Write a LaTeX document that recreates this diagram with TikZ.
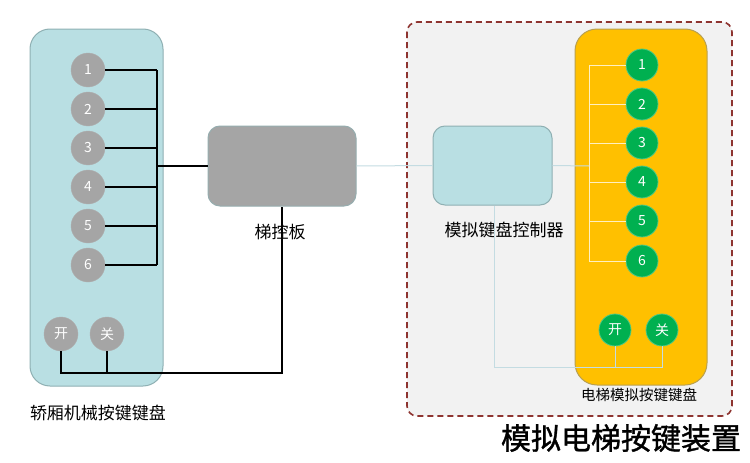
\documentclass[tikz,border=0pt]{standalone}
\usepackage{fontspec}
\setmainfont{Noto Sans CJK SC}
\newfontfamily\titlefont[FakeBold=1.2]{Noto Sans CJK SC}
\usetikzlibrary{calc}
\definecolor{kbblue}{HTML}{B9DFE3}
\definecolor{kbblueedge}{HTML}{8FB0B3}
\definecolor{btngray}{HTML}{A5A5A5}
\definecolor{btngreen}{HTML}{00B050}
\definecolor{kbyellow}{HTML}{FFC000}
\definecolor{yellowedge}{HTML}{B9A050}
\definecolor{regionfill}{HTML}{F2F2F2}
\definecolor{regionedge}{HTML}{8E3430}
\definecolor{paleline}{HTML}{C4DCE2}
\definecolor{yline}{HTML}{FFF0C0}
\tikzset{
  graybtn/.style={circle, fill=btngray, draw=btngray!90!white, minimum size=34pt, inner sep=0pt, text=white, font=\fontsize{14}{14}\selectfont},
  greenbtn/.style={circle, fill=btngreen, draw=btngreen!70!white, line width=0.8pt, minimum size=32pt, inner sep=0pt, text=white, font=\fontsize{14}{14}\selectfont},
  wire/.style={draw=black, line width=1.2pt},
  lightwire/.style={draw=paleline, line width=1pt},
  ywire/.style={draw=yline, line width=1pt},
  lbl/.style={inner sep=0pt, font=\fontsize{17}{17}\selectfont},
}
\begin{document}
\begin{tikzpicture}[x=1pt,y=-1pt]
\useasboundingbox[fill=white] (0,0) rectangle (750,463);

% right region
\draw[regionedge, dash pattern=on 6pt off 4pt, fill=regionfill, rounded corners=10pt, line width=1.6pt] (407,22) rectangle (732,416);

% left keypad
\node[draw=kbblueedge, fill=kbblue, rounded corners=20pt, minimum width=133pt, minimum height=357pt, inner sep=0pt, line width=1pt] (lkb) at (96.5,207.5) {};
\foreach \i/\y in {1/70,2/109,3/148,4/187,5/226,6/265}{
  \node[graybtn] (g\i) at (88,\y) {\i};
}
\node[graybtn] (go) at (61,334) {开};
\node[graybtn] (gc) at (107,334) {关};

% elevator control board
\node[draw=kbblueedge!70!btngray, fill=btngray, rounded corners=12pt, minimum width=148pt, minimum height=80pt, inner sep=0pt, line width=1pt] (tkb) at (282,166) {};
\node[lbl] (tkbl) at (280,232) {梯控板};

% left wires
\coordinate (lbus) at (157,166);
\foreach \i in {1,...,6}{
  \draw[wire] (g\i.east) -- (g\i.east -| lbus);
}
\draw[wire] (g1.east -| lbus) -- (g6.east -| lbus);
\draw[wire] (lbus) -- (tkb.west);
\coordinate (lj) at (282,373);
\draw[wire] (go.south) |- (lj) -- (tkb.south);
\draw[wire] (gc.south) -- (gc.south |- lj);

% controller
\node[draw=kbblueedge, fill=kbblue, rounded corners=12pt, minimum width=119pt, minimum height=79pt, inner sep=0pt, line width=1pt] (ctl) at (492.5,165.5) {};
\node[lbl] (ctll) at (504,230) {模拟键盘控制器};

% yellow keypad
\node[draw=yellowedge, fill=kbyellow, rounded corners=22pt, minimum width=132pt, minimum height=356pt, inner sep=0pt, line width=1pt] (ykb) at (641,207) {};
\foreach \i/\y in {1/65,2/104,3/143,4/182,5/221,6/261}{
  \node[greenbtn] (b\i) at (642,\y) {\i};
}
\node[greenbtn] (bo) at (615,330) {开};
\node[greenbtn] (bc) at (662,330) {关};

% right wires
\draw[lightwire] (tkb.east) -- (ctl.west);
\coordinate (rbus) at (589,166);
\draw[lightwire] (ctl.east) -- (rbus);
\foreach \i in {1,...,6}{
  \draw[ywire] (rbus |- b\i.west) -- (b\i.west);
}
\draw[ywire] (rbus |- b1.west) -- (rbus |- b6.west);
\coordinate (rj) at (494,367);
\draw[lightwire] (bc.south) |- (rj) -- (rj |- ctl.south);
\draw[lightwire] (bo.south) -- (bo.south |- rj);

% labels
\node[lbl] (lkbl) at (98,413) {轿厢机械按键键盘};
\node[inner sep=0pt, font=\fontsize{14.5}{14.5}\selectfont] (ykbl) at (639,395) {电梯模拟按键键盘};
\node[inner sep=0pt, font=\titlefont\fontsize{30}{30}\selectfont] (title) at (621,438) {模拟电梯按键装置};
\end{tikzpicture}
\end{document}
